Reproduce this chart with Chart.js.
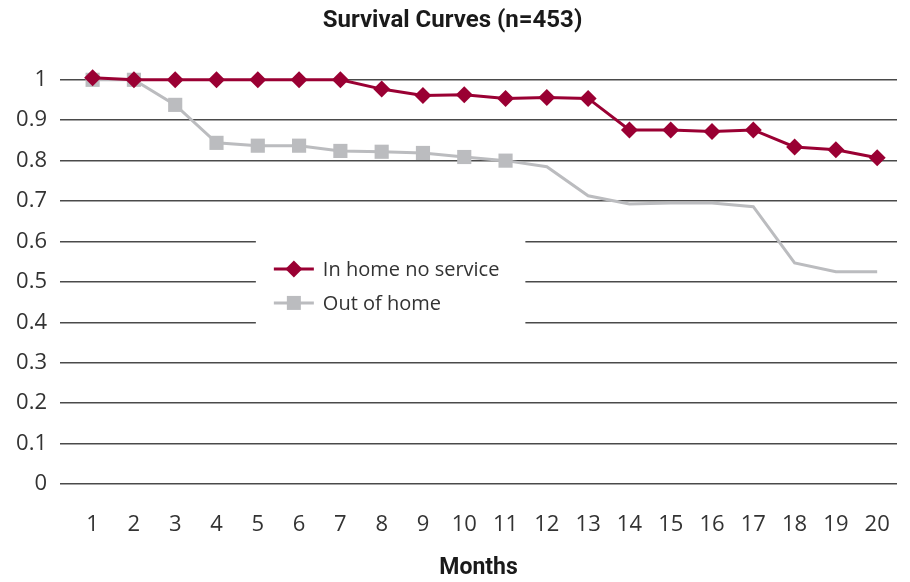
<!DOCTYPE html>
<html>
<head>
<meta charset="utf-8">
<title>Survival Curves (n=453)</title>
<script src="https://cdn.jsdelivr.net/npm/chart.js@4/dist/chart.umd.min.js"></script>
<style>
  html, body { margin: 0; padding: 0; background: #fff; }
  #wrap { width: 910px; height: 582px; position: relative; }
</style>
</head>
<body>
<div id="wrap"><canvas id="survivalChart"></canvas></div>
<script>
/* ── Data ──────────────────────────────────────────────────── */
const months = [1, 2, 3, 4, 5, 6, 7, 8, 9, 10, 11, 12, 13, 14, 15, 16, 17, 18, 19, 20];

const inHomeNoService = [1.005, 1.0, 1.0, 1.0, 1.0, 1.0, 1.0, 0.977, 0.961, 0.963,
                         0.954, 0.956, 0.954, 0.876, 0.876, 0.872, 0.876, 0.834, 0.827, 0.807];

const outOfHome = [1.0, 1.0, 0.938, 0.844, 0.837, 0.837, 0.824, 0.822, 0.819, 0.809,
                   0.800, 0.785, 0.713, 0.693, 0.695, 0.695, 0.686, 0.547, 0.525, 0.525];

const yTicks = [0, 0.1, 0.2, 0.3, 0.4, 0.5, 0.6, 0.7, 0.8, 0.9, 1];

const seriesNames = ['In home no service', 'Out of home'];

/* ── Styles ────────────────────────────────────────────────── */
const RED  = '#9a0033';
const GRAY = '#bbbcbf';
const TEXT = '#333';
const GRAY_MARKERS = 11;   // out-of-home markers stop after the 11th point

const toPoints = vals => months.map((m, i) => ({ x: m, y: vals[i] }));

/* legend sits inside the plot on a white patch that hides the grid */
const insideLegend = {
  id: 'insideLegend',
  beforeDatasetsDraw(chart) {
    const { ctx, chartArea: a } = chart;
    const left   = a.left + a.width * 0.234;
    const right  = a.left + a.width * 0.556;
    const top    = a.top + a.height * 0.334;
    const bottom = a.top + a.height * 0.656;

    ctx.save();
    ctx.fillStyle = '#fff';
    ctx.fillRect(left, top, right - left, bottom - top);

    const rows = [a.top + a.height * 0.468, a.top + a.height * 0.552];
    chart.data.datasets.forEach((ds, i) => {
      const y = rows[i];
      const x0 = left + 18, x1 = left + 58, xm = (x0 + x1) / 2;

      ctx.strokeStyle = ds.borderColor;
      ctx.lineWidth = ds.borderWidth;
      ctx.beginPath();
      ctx.moveTo(x0, y);
      ctx.lineTo(x1, y);
      ctx.stroke();

      ctx.fillStyle = ds.borderColor;
      ctx.beginPath();
      if (ds.pointStyle === 'rectRot') {
        const r = 8.5;
        ctx.moveTo(xm, y - r);
        ctx.lineTo(xm + r, y);
        ctx.lineTo(xm, y + r);
        ctx.lineTo(xm - r, y);
        ctx.closePath();
      } else {
        ctx.rect(xm - 7, y - 7, 14, 14);
      }
      ctx.fill();

      ctx.fillStyle = TEXT;
      ctx.font = '20px "Open Sans", sans-serif';
      ctx.textBaseline = 'middle';
      ctx.textAlign = 'left';
      ctx.fillText(ds.label, left + 67, y + 1);
    });
    ctx.restore();
  }
};

new Chart(document.getElementById('survivalChart').getContext('2d'), {
  type: 'line',
  data: {
    datasets: [
      {
        label: seriesNames[0],
        data: toPoints(inHomeNoService),
        borderColor: RED,
        backgroundColor: RED,
        borderWidth: 3,
        pointStyle: 'rectRot',
        pointRadius: 8.5,
        pointHoverRadius: 8.5,
        pointBorderWidth: 0,
        tension: 0,
        clip: false,
      },
      {
        label: seriesNames[1],
        data: toPoints(outOfHome),
        borderColor: GRAY,
        backgroundColor: GRAY,
        borderWidth: 3,
        pointStyle: 'rect',
        pointRadius: ctx => (ctx.dataIndex < GRAY_MARKERS ? 10 : 0),
        pointHoverRadius: 0,
        pointBorderWidth: 0,
        tension: 0,
        clip: false,
      },
    ],
  },
  options: {
    responsive: true,
    maintainAspectRatio: false,
    animation: false,
    devicePixelRatio: 1,
    layout: { padding: { left: 0, right: 5, top: 0, bottom: 0 } },
    plugins: {
      legend: { display: false },
      tooltip: { enabled: false },
      title: {
        display: true,
        text: 'Survival Curves (n=453)',
        color: '#1a1a1a',
        font: { family: 'Roboto', size: 24, weight: 'bold' },
        padding: { top: 7, bottom: 44 },
      },
    },
    scales: {
      x: {
        type: 'linear',
        min: 0.21,
        max: 20.48,
        afterBuildTicks: s => { s.ticks = months.map(v => ({ value: v })); },
        afterFit: s => { s.height = 98; },
        grid: { display: false },
        border: { display: false },
        ticks: {
          color: TEXT,
          font: { family: 'Open Sans', size: 22 },
          padding: 20,
          maxRotation: 0,
          autoSkip: false,
        },
        title: {
          display: true,
          text: 'Months',
          color: '#1a1a1a',
          font: { family: 'Roboto', size: 23, weight: 'bold' },
          padding: { top: 0, bottom: 0 },
        },
      },
      y: {
        min: 0,
        max: 1,
        afterBuildTicks: s => { s.ticks = yTicks.map(v => ({ value: v })); },
        afterFit: s => { s.width = 60; },
        grid: { color: '#4a4a4a', lineWidth: 1.5, drawTicks: false },
        border: { display: false },
        ticks: {
          color: TEXT,
          font: { family: 'Open Sans', size: 22 },
          padding: 13,
          callback: v => String(v),
        },
      },
    },
  },
  plugins: [insideLegend],
});
</script>
</body>
</html>
